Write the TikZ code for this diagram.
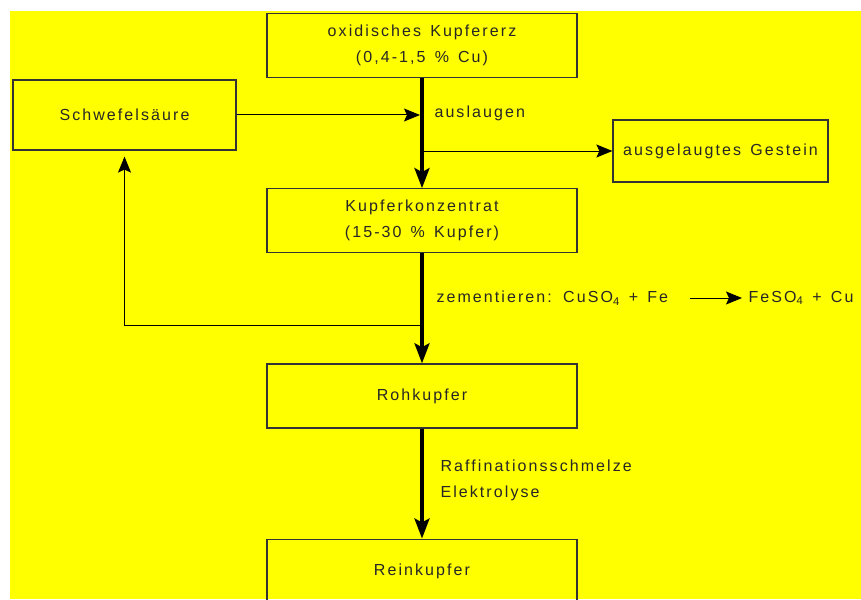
\documentclass[tikz,border=0pt]{standalone}
\usepackage{fontspec}
\setmainfont{Liberation Sans}[LetterSpace=13,WordSpace=1.4]
\usepackage{tikz}
\usetikzlibrary{arrows.meta,positioning}
\definecolor{bgyellow}{RGB}{255,255,0}

\begin{document}
\begin{tikzpicture}[x=1pt,y=1pt,node distance=110pt,
      font=\fontsize{16}{26}\selectfont,text=black!85,
      stage/.style={draw=black!80,line width=1.2pt,minimum width=310pt,minimum height=64pt,align=center,inner sep=0pt},
      side/.style={draw=black!80,line width=1.2pt,align=center,inner sep=0pt},
      mainflow/.style={-{Stealth[length=20pt,width=15pt,inset=4pt]},line width=3.5pt},
      feed/.style={-{Stealth[length=16pt,width=13pt,inset=3pt]},line width=1pt}]
      \useasboundingbox (0,0) rectangle (861,-599);
      \fill[bgyellow] (10,-11) rectangle (861,-599);

      \node[stage] (ore) at (422,-45.5) {oxidisches Kupfererz\\(0,4-1,5 \% Cu)};
      \node[stage] (konz) [below=of ore] {Kupferkonzentrat\\(15-30 \% Kupfer)};
      \node[stage] (roh) [below=of konz] {Rohkupfer};
      \node[stage] (rein) [below=of roh] {Reinkupfer};
      \node[side,minimum width=223pt,minimum height=70pt] (saeure) at (124.5,-115) {Schwefelsäure};
      \node[side,minimum width=215pt,minimum height=62pt] (gestein) at (720.5,-151) {ausgelaugtes Gestein};

      \node[anchor=west] (laus) at (431,-113) {auslaugen};
      \node[anchor=west] (lzem) at (433,-298) {zementieren: CuSO\textsubscript{4} + Fe};
      \node[anchor=west] (lprod) at (745,-298) {FeSO\textsubscript{4} + Cu};
      \node[anchor=west,align=left] (lraf) at (437,-480) {Raffinationsschmelze\\Elektrolyse};

      \coordinate (jsa) at (saeure -| ore);
      \coordinate (jge) at (gestein -| ore);
      \coordinate (jret) at ([yshift=-72pt]konz.south);

      \path[mainflow]
        (ore) edge (konz)
        (konz) edge (roh)
        (roh) edge (rein);

      \draw[feed,shorten >=2pt] (saeure) -- (jsa);
      \draw[feed] (jge) -- (gestein);
      \draw[feed,shorten >=6pt] (jret) -| (saeure);
      \draw[feed,shorten <=18pt,shorten >=3pt] (lzem) -- (lprod);
\end{tikzpicture}
\end{document}
